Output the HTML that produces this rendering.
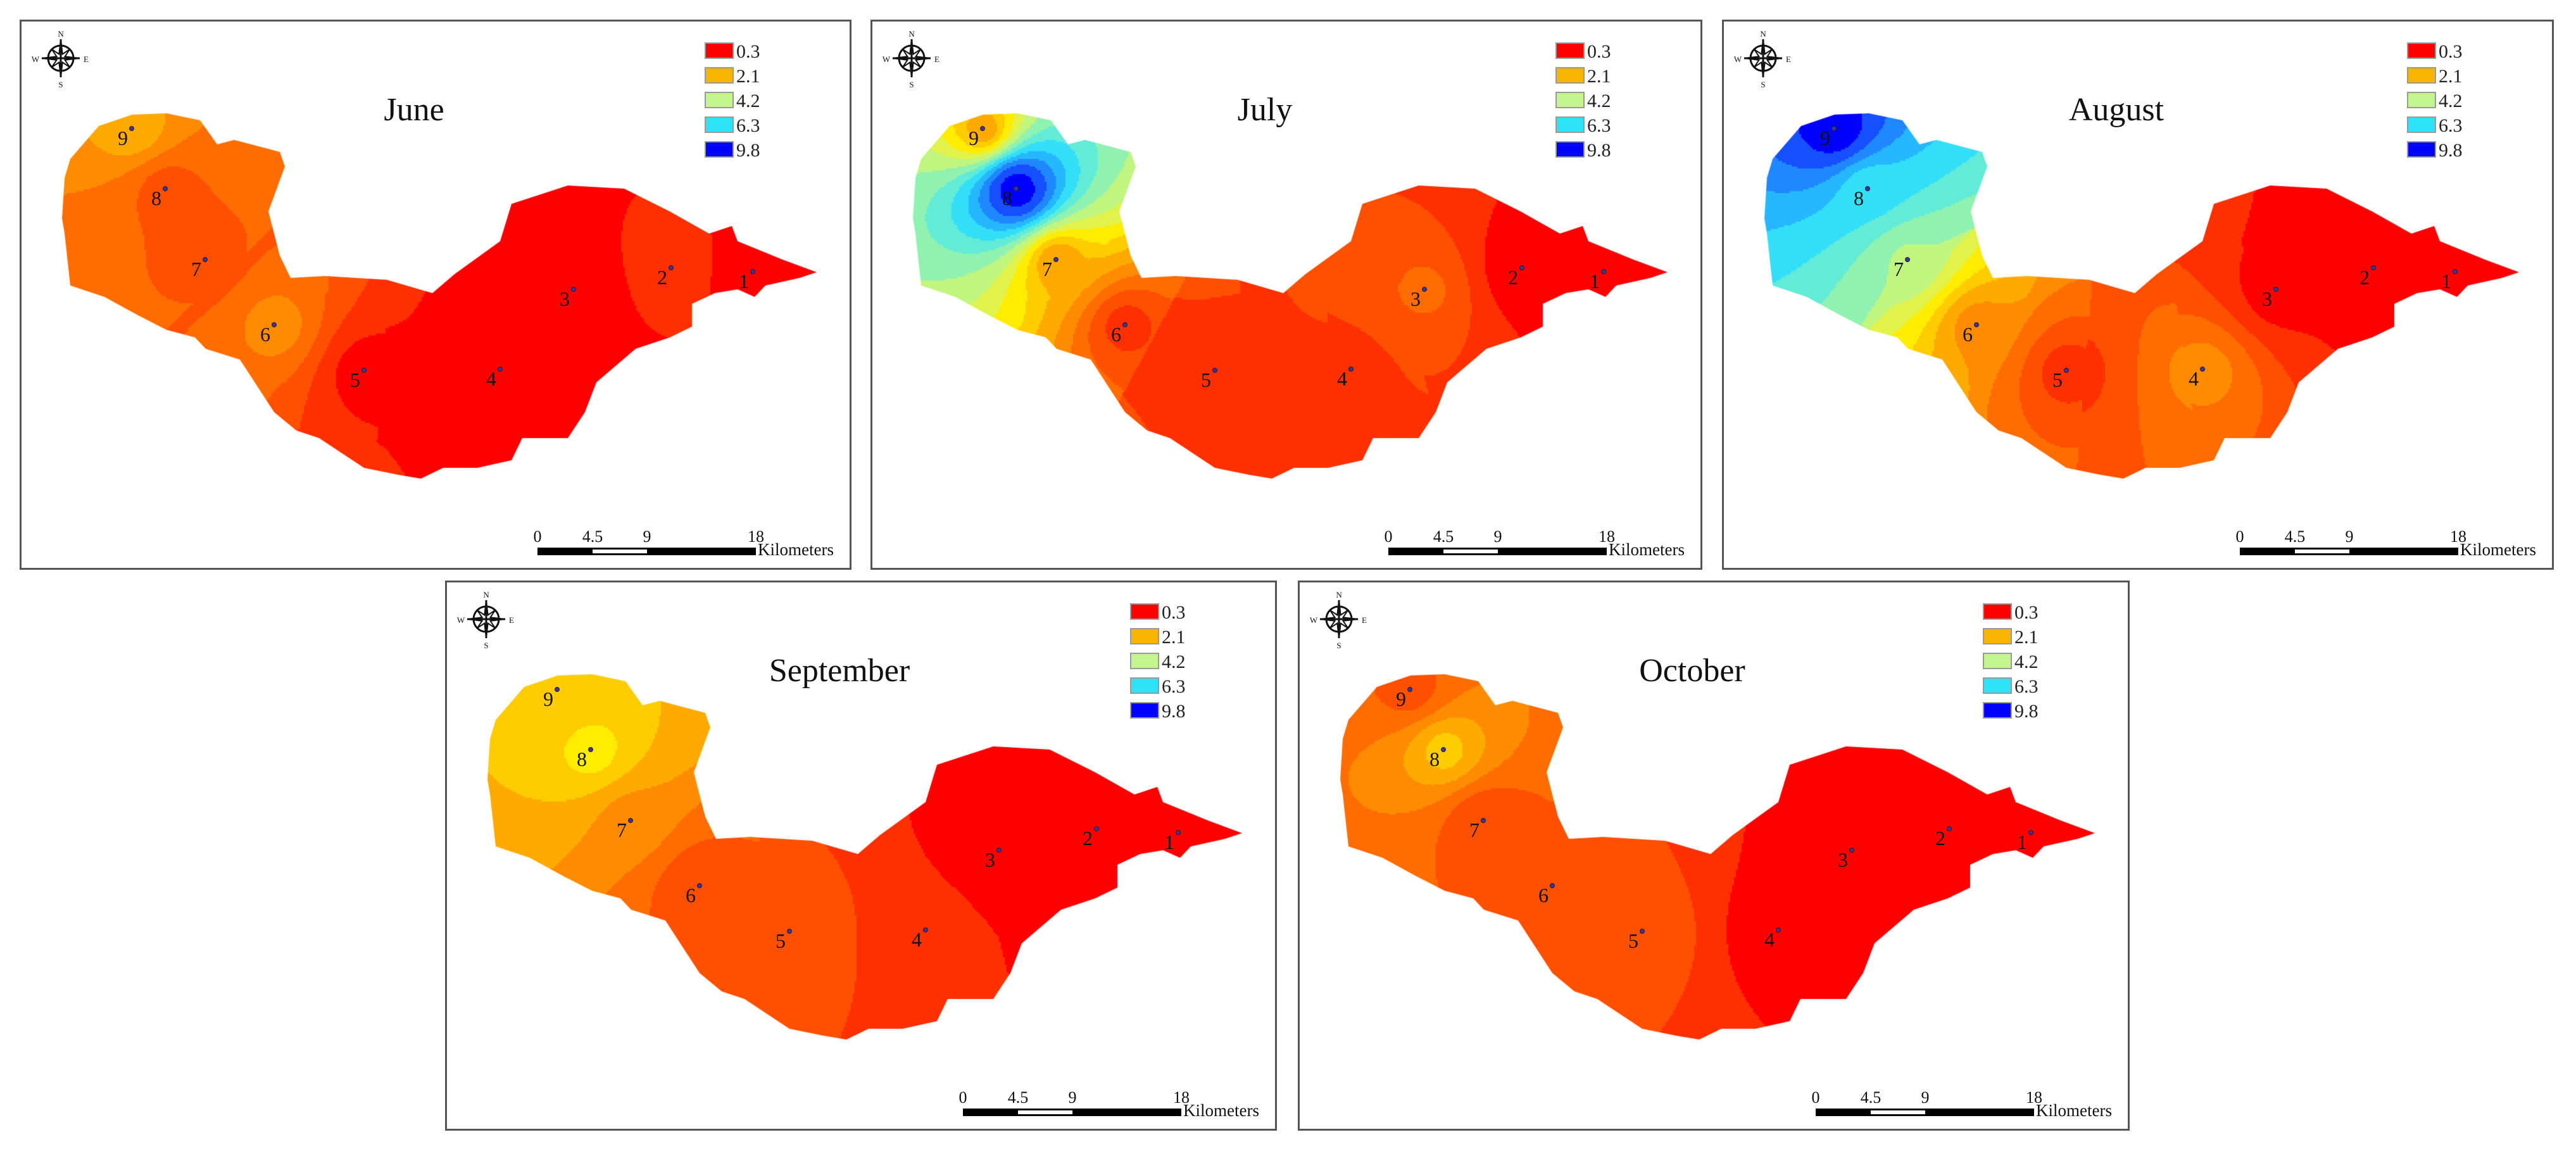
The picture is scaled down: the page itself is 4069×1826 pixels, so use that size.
<!DOCTYPE html>
<html><head><meta charset="utf-8"><style>
html,body{margin:0;padding:0;background:#fff;width:4069px;height:1826px;overflow:hidden;font-family:"Liberation Serif",serif}
.panel{position:absolute;width:1314px;height:869px;box-sizing:border-box;border:3px solid #555;background:#fff}
.panel canvas,.panel svg{position:absolute;left:0;top:0}
</style></head><body>
<div id="root"></div>
<script>
// ---- data ----
const months = ["June","July","August","September","October"];
const stations = ["1","2","3","4","5","6","7","8","9"];
const juneVals = [0.3,0.9,0.3,0.3,0.4,2.0,1.2,1.2,2.5];
const julyVals = [0.3,0.3,1.5,0.9,0.9,0.8,2.2,9.8,2.3];
const augustVals = [0.3,0.3,0.4,2.0,0.8,2.0,4.5,6.0,9.8];
const septemberVals = [0.3,0.3,0.3,0.8,1.3,1.0,2.0,3.2,2.6];
const octoberVals = [0.3,0.3,0.3,0.3,1.3,1.3,1.0,2.8,1.2];
const legendLabels = ["0.3","2.1","4.2","6.3","9.8"];
const scaleLabels = ["0","4.5","9","18"];
const allVals=[juneVals,julyVals,augustVals,septemberVals,octoberVals];
// layout (not data)
const panelPos=[[31,31],[1375,31],[2720,31],[703,917],[2050,917]];
const sitePos=[[1155,395],[1026,389],[872,423],[756,549],[541,551],[399,479],[290,376],[227,264],[174,169]];
const lake=[[122,165],[175,147],[229,145],[282,156],[309,194],[336,187],[408,206],[416,229],[390,300],[408,370],[425,405],[479,402],[577,408],[649,429],[684,399],[756,347],[774,288],[863,259],[952,264],[1024,300],[1086,335],[1122,323],[1131,347],[1202,376],[1256,396],[1229,405],[1175,417],[1158,435],[1131,423],[1095,429],[1059,446],[1059,482],[1024,499],[970,517],[908,570],[890,617],[863,658],[791,658],[774,693],[720,705],[666,705],[631,722],[595,716],[541,705],[470,658],[434,646],[399,617],[345,534],[291,517],[274,499],[229,487],[184,464],[131,435],[77,417],[68,335],[64,311],[68,247],[77,217]];
const stops=[[3.2,[255,240,20]],[4.2,[200,245,120]],[5.2,[120,240,200]],[6.3,[40,220,255]],[8.0,[30,110,255]],[9.8,[0,0,255]]];
function ramp(v){if(v<=stops[0][0])return stops[0][1];for(let i=1;i<stops.length;i++){if(v<=stops[i][0]){const a=stops[i-1],b=stops[i],t=(v-a[0])/(b[0]-a[0]);return a[1].map((c,k)=>Math.round(c+(b[1][k]-c)*t));}}return stops[stops.length-1][1];}
const lowBands=[[0.6,'#ff0000'],[1.0,'#ff3000'],[1.4,'#ff5000'],[1.8,'#ff6c00'],[2.2,'#ff8c00'],[2.6,'#ffaa00'],[3.0,'#ffcc00'],[3.5,'#ffec00']];
const hiBands=[4.0,4.6,5.2,5.8,6.5,7.2,8.0,9.0,20];
function bandColor(v){for(const b of lowBands){if(v<b[0])return b[1];}let lo=3.5;for(const h of hiBands){if(v<h){const c=ramp(Math.min((lo+h)/2,9.8));return 'rgb('+c.join(',')+')';}lo=h;}return '#0000ff';}
const NS='http://www.w3.org/2000/svg';
function sv(tag,attrs,parent){const e=document.createElementNS(NS,tag);for(const k in attrs)e.setAttribute(k,attrs[k]);parent.appendChild(e);return e;}
const root=document.getElementById('root');
months.forEach((m,pi)=>{
 const vals=allVals[pi];
 const p=document.createElement('div');p.className='panel';
 
 
 p.style.left=panelPos[pi][0]+'px';p.style.top=panelPos[pi][1]+'px';
 root.appendChild(p);
 const cv=document.createElement('canvas');cv.width=1308;cv.height=863;
 
 
 p.appendChild(cv);
 const ctx=cv.getContext('2d');
 ctx.beginPath();lake.forEach((q,i)=>i?ctx.lineTo(q[0],q[1]):ctx.moveTo(q[0],q[1]));ctx.closePath();ctx.save();ctx.clip();
 const st=3;
 for(let y=130;y<740;y+=st){for(let x=50;x<1270;x+=st){
  const ds=[];let hit=-1;
  for(let k=0;k<9;k++){const dx=x-sitePos[k][0],dy=y-sitePos[k][1];const d2=dx*dx+dy*dy;if(d2<1){hit=k;break;}ds.push([d2,k]);}
  let v;
  if(hit>=0)v=vals[hit];else{ds.sort((a,b)=>a[0]-b[0]);let sw=0,s=0;for(let j=0;j<4;j++){const w=1/ds[j][0];sw+=w;s+=w*vals[ds[j][1]];}v=s/sw;}
  ctx.fillStyle=bandColor(v);ctx.fillRect(x,y,st,st);}}
 ctx.restore();
 const svg=sv('svg',{width:1308,height:863,viewBox:'0 0 1308 863'},p);
 
 
 const t=sv('text',{x:620,y:156,'font-size':52,'text-anchor':'middle','font-family':'Liberation Serif, serif',fill:'#111'},svg);t.textContent=m;
 
 
 const g=sv('g',{transform:'translate(62,58)'},svg);
 
 
 sv('circle',{cx:0,cy:0,r:20,fill:'none',stroke:'#111','stroke-width':3},g);
 const pts=[];for(let i=0;i<16;i++){const a=i*Math.PI/8-Math.PI/2;const r=i%4==0?30:(i%2==0?20:7);pts.push((r*Math.cos(a)).toFixed(1)+','+(r*Math.sin(a)).toFixed(1));}
 sv('polygon',{points:pts.join(' '),fill:'#fff',stroke:'#111','stroke-width':2},g);
 sv('path',{d:'M0,-30L0,30M-30,0L30,0',stroke:'#111','stroke-width':3},g);
 [['N',0,-34],['S',0,46],['W',-40,6],['E',40,6]].forEach(a=>{const l=sv('text',{x:a[1],y:a[2],'font-size':13,'text-anchor':'middle',fill:'#111'},g);l.textContent=a[0];});
 const lc=['#ff0000','#f7b500','#c4f58c','#2ee2f7','#0000ff'];
 legendLabels.forEach((lb,i)=>{const y=34+i*39;
  const r=sv('rect',{x:1080,y:y,width:44,height:24,fill:lc[i],stroke:'#999','stroke-width':2},svg);
  
  
  const tx=sv('text',{x:1129,y:y+23,'font-size':30,fill:'#222'},svg);tx.textContent=lb;
  
  });
 stations.forEach((s,k)=>{const q=sitePos[k];
  const c=sv('circle',{cx:q[0],cy:q[1],r:3.5,fill:'#4030a0',stroke:'#222','stroke-width':1},svg);
  
  
  const l=sv('text',{x:q[0]-22,y:q[1]+26,'font-size':32,fill:'#111'},svg);l.textContent=s;
  
  });
 const sb=sv('g',{},svg);
 
 
 sv('rect',{x:815,y:831,width:345,height:12,fill:'#000'},sb);
 sv('rect',{x:902,y:834,width:86,height:6,fill:'#fff'},sb);
 const sx=[815,902,988,1160];
 scaleLabels.forEach((lb,i)=>{const tx=sv('text',{x:sx[i],y:822,'font-size':26,'text-anchor':'middle',fill:'#111'},sb);tx.textContent=lb;});
 const km=sv('text',{x:1163,y:843,'font-size':27,fill:'#111'},sb);km.textContent='Kilometers';
});
</script>
</body></html>
